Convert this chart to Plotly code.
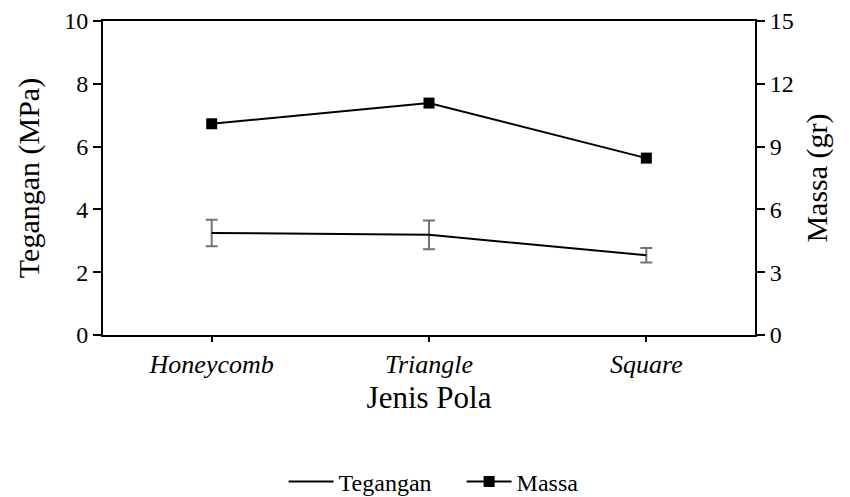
import plotly.graph_objects as go

categories = ["Honeycomb", "Triangle", "Square"]
tegangan = [3.25, 3.19, 2.54]
tegangan_err = [0.42, 0.46, 0.23]
massa = [10.09, 11.08, 8.45]

FONT = "Liberation Serif, Times New Roman, serif"
xpos = list(range(len(categories)))

fig = go.Figure()
fig.add_trace(go.Scatter(
    x=xpos, y=tegangan, name="Tegangan", mode="lines",
    line=dict(color="black", width=2),
    error_y=dict(type="data", array=tegangan_err, visible=True,
                 color="#737373", thickness=2, width=6),
    yaxis="y",
))
fig.add_trace(go.Scatter(
    x=xpos, y=massa, name="Massa", mode="lines+markers",
    line=dict(color="black", width=2),
    marker=dict(symbol="square", size=11, color="black"),
    yaxis="y2",
))

fig.update_layout(
    width=842, height=497,
    margin=dict(l=95, r=95, t=13, b=170, autoexpand=False),
    paper_bgcolor="white", plot_bgcolor="white",
    font=dict(family=FONT, color="black", size=24),
    showlegend=True,
    legend=dict(orientation="h", x=0.277, xanchor="left", y=-0.468, yanchor="middle",
                font=dict(size=24, family=FONT), traceorder="normal",
                itemwidth=45, entrywidth=118, entrywidthmode="pixels"),
    xaxis=dict(
        range=[-0.5, 2.5], automargin=False,
        tickvals=xpos,
        ticktext=["<i>%s</i>" % c for c in categories],
        tickfont=dict(size=26, family=FONT),
        showline=True, linecolor="black", linewidth=2, mirror=True,
        ticks="outside", ticklen=5, tickwidth=2, tickcolor="black",
        showgrid=False, zeroline=False,
        title=dict(text="Jenis Pola", font=dict(size=31, family=FONT), standoff=8),
    ),
    yaxis=dict(
        range=[0, 10], dtick=2, tick0=0, automargin=False,
        showline=True, linecolor="black", linewidth=2,
        ticks="outside", ticklen=8, tickwidth=2, tickcolor="black",
        showgrid=False, zeroline=False,
        tickfont=dict(size=24, family=FONT),
        title=dict(text="Tegangan (MPa)", font=dict(size=30, family=FONT), standoff=16),
    ),
    yaxis2=dict(
        range=[0, 15], dtick=3, tick0=0, automargin=False,
        overlaying="y", side="right",
        showline=True, linecolor="black", linewidth=2,
        ticks="outside", ticklen=8, tickwidth=2, tickcolor="black",
        showgrid=False, zeroline=False,
        tickfont=dict(size=24, family=FONT),
        title=dict(text="Massa (gr)", font=dict(size=30, family=FONT), standoff=13),
    ),
)

fig.write_html("out.html")
